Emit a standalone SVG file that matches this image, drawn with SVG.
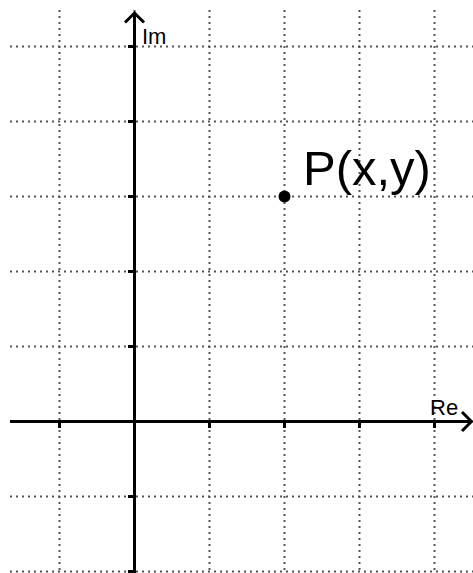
<svg xmlns="http://www.w3.org/2000/svg" width="473" height="573" viewBox="0 0 473 573">
<style>
.grid{stroke:#555;stroke-width:2;stroke-dasharray:2 4;fill:none}
.axis{stroke:#000;stroke-width:3;fill:none}
.tick{stroke:#000;stroke-width:3}
.lbl{font-family:"Liberation Sans",Arial,sans-serif;fill:#000}
</style>
<rect width="473" height="573" fill="#fff"/>
<g id="grid">
<path class="grid" d="M59.5 10V573M134.5 10V573M209.5 10V573M284.5 10V573M359.5 10V573M434.5 10V573"/>
<path class="grid" d="M10 46.5H473M10 121.5H473M10 196.5H473M10 271.5H473M10 346.5H473M10 421.5H473M10 496.5H473M10 571.5H473"/>
</g>
<g id="connectors">
<path class="axis" d="M10 421.5H471"/>
<path class="axis" d="M462 412L471.5 421.5L462 431"/>
<path class="axis" d="M134.5 573V13"/>
<path class="axis" d="M125 22.5L134.5 13L144 22.5"/>
<path class="tick" d="M59.5 421.5V428M209.5 421.5V428M284.5 421.5V428M359.5 421.5V428M434.5 421.5V428"/>
<path class="tick" d="M128 46.5H134.5M128 121.5H134.5M128 196.5H134.5M128 271.5H134.5M128 346.5H134.5M128 496.5H134.5M128 571.5H134.5"/>
</g>
<g id="im-label"><text class="lbl" x="142" y="44" font-size="22">Im</text></g>
<g id="re-label"><text class="lbl" x="430" y="415" font-size="22">Re</text></g>
<g id="point-P">
<circle cx="284.5" cy="196.5" r="6" fill="#000"/>
<text class="lbl" x="303" y="185" font-size="49">P(x,y)</text>
</g>
</svg>
